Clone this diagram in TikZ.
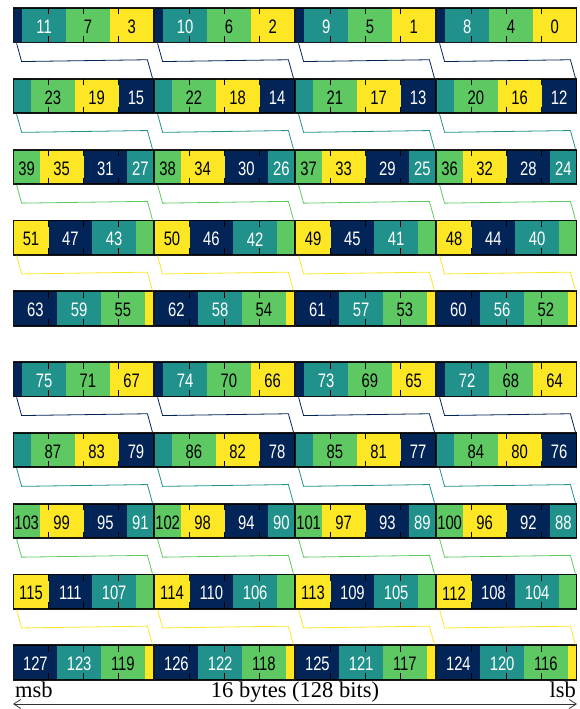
\documentclass[tikz,border=0pt]{standalone}
\usepackage{fontspec}
\setmainfont{Liberation Serif}
\newfontfamily\labfont[FakeStretch=0.76]{Liberation Sans}
\usetikzlibrary{calc,arrows.meta}
\definecolor{cY}{HTML}{FDE725}
\definecolor{cG}{HTML}{5EC962}
\definecolor{cT}{HTML}{21918C}
\definecolor{cN}{HTML}{022457}
\begin{document}
\begin{tikzpicture}[x=1pt,y=-1pt,
  lane/.style={draw=black,line width=1.8pt,minimum width=140pt,minimum height=34.5pt,inner sep=0pt,fill=none,draw opacity=0.9},
  tickmark/.style={draw=black,line width=1.4pt},
  lab/.style={inner sep=0pt,font=\labfont\fontsize{19.5}{19.5}\selectfont},
  conn/.style={line width=0.8pt},
  caption/.style={inner sep=0pt,font=\fontsize{22.5}{24}\selectfont}]
\useasboundingbox (0,0) rectangle (580,709);
\foreach \g in {0,1}{
 \foreach \r in {0,...,4}{
  \foreach \k in {0,...,3}{
   \pgfmathsetmacro\xl{13.5+141*(3-\k)}
   \pgfmathsetmacro\xr{\xl+140}
   \pgfmathsetmacro\yt{8+70.8*(5*\g+\r)}
   \pgfmathsetmacro\yb{\yt+34.5}
   \foreach \j in {0,...,15}{
    \pgfmathtruncatemacro\lo{max(10*\j,32*\r)-32*\r}
    \pgfmathtruncatemacro\hi{min(10*\j+10,32*\r+32)-32*\r}
    \ifnum\hi>\lo
     \pgfmathtruncatemacro\c{mod(\j,4)}
     \ifcase\c \def\col{cY}\or\def\col{cG}\or\def\col{cT}\else\def\col{cN}\fi
     \pgfmathsetmacro\xa{\xr-\hi*4.375}
     \pgfmathsetmacro\xb{\xr-\lo*4.375}
     \fill[\col] (\xa,\yt) rectangle (\xb,\yb);
    \fi
   }
   \node[lane] (L-\g-\r-\k) at ({\xl+70},{\yt+17.25}) {};
   \foreach \m in {1,2,3}{
    \draw[tickmark] ({\xr-35*\m},\yt) -- ++(0,6.5);
    \draw[tickmark] ({\xr-35*\m},\yb) -- ++(0,-6.5);
   }
   \foreach \j in {0,...,15}{
    \pgfmathtruncatemacro\lo{max(10*\j,32*\r)-32*\r}
    \pgfmathtruncatemacro\hi{min(10*\j+10,32*\r+32)-32*\r}
    \pgfmathtruncatemacro\w{\hi-\lo}
    \ifnum\w>5
     \pgfmathtruncatemacro\c{mod(\j,4)}
     \ifnum\c<2 \def\tc{black}\else\def\tc{white}\fi
     \pgfmathtruncatemacro\val{64*\g+4*\j+\k}
     \pgfmathsetmacro\xm{\xr-(\hi+\lo)*4.375/2}
     \node[lab,text=\tc] (v\val) at (\xm,{\yt+18.8}) {\val};
    \fi
   }
  }
 }
}
\foreach \g in {0,1}{
 \foreach \r in {0,...,3}{
  \foreach \k in {0,...,3}{
   \pgfmathtruncatemacro\rn{\r+1}
   \ifcase\r \def\col{cN}\or\def\col{cT}\or\def\col{cG}\else\def\col{cY}\fi
   \draw[conn,draw=\col] ($(L-\g-\r-\k.south west)+(4,0)$) -- ++(5,18.15)
     -- ($(L-\g-\rn-\k.north east)+(-7,-18.15)$) -- ($(L-\g-\rn-\k.north east)+(-2,0)$);
  }
 }
}
\coordinate (msbend) at (13,704);
\coordinate (lsbend) at (577,704);
\draw[line width=0.8pt,black!80,{Straight Barb[length=7pt,width=9pt]}-{Straight Barb[length=7pt,width=9pt]}] (msbend) -- (lsbend);
\node[caption,anchor=base west] (msb) at (15,697) {msb};
\node[caption,anchor=base] (width) at (295,697) {16 bytes (128 bits)};
\node[caption,anchor=base east] (lsb) at (576,697) {lsb};
\end{tikzpicture}
\end{document}
